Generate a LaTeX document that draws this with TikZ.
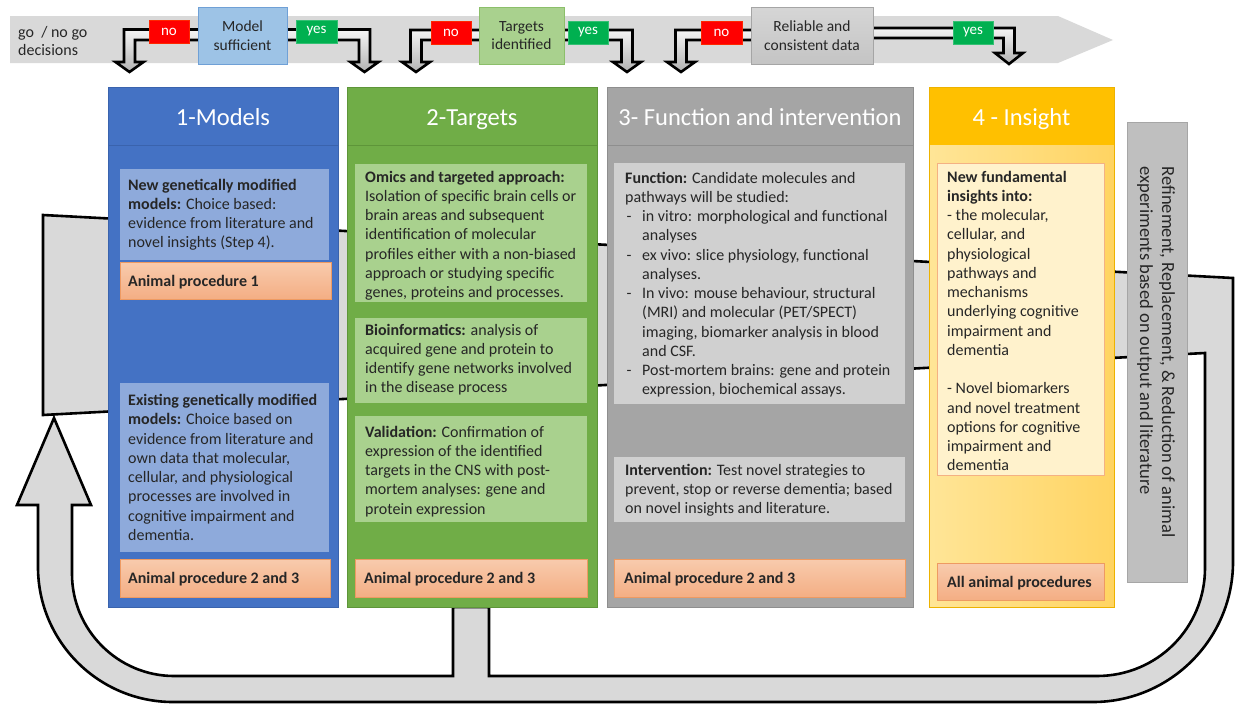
\documentclass[tikz,border=0pt]{standalone}
\usepackage{fontspec}
\setmainfont{Carlito}
\usetikzlibrary{calc}

\definecolor{bandgray}{HTML}{D9D9D9}
\definecolor{ink}{HTML}{262626}
\definecolor{mblue}{HTML}{4472C4}
\definecolor{mblueline}{HTML}{3A63AD}
\definecolor{mbluelt}{HTML}{8EAADB}
\definecolor{tgreen}{HTML}{70AD47}
\definecolor{tgreenline}{HTML}{5E9539}
\definecolor{tgreenlt}{HTML}{A9D18E}
\definecolor{fgray}{HTML}{A5A5A5}
\definecolor{fgrayline}{HTML}{8E8E8E}
\definecolor{fgraylt}{HTML}{D0D0D0}
\definecolor{igold}{HTML}{FFC000}
\definecolor{igoldline}{HTML}{EDB200}
\definecolor{ibodyL}{HTML}{FFE597}
\definecolor{ibodyR}{HTML}{FFD462}
\definecolor{ilight}{HTML}{FFF2CC}
\definecolor{ilightline}{HTML}{F4B183}
\definecolor{apfillA}{HTML}{F8CBAD}
\definecolor{apfillB}{HTML}{F4AE84}
\definecolor{apline}{HTML}{EE9A62}
\definecolor{nored}{HTML}{FF0000}
\definecolor{yesgreen}{HTML}{00B050}
\definecolor{decblue}{HTML}{9DC3E6}
\definecolor{decblueline}{HTML}{6FA0D6}
\definecolor{decgreen}{HTML}{A9D18E}
\definecolor{decgreenline}{HTML}{8CBF6A}
\definecolor{decgray}{HTML}{C4C4C4}
\definecolor{decgrayline}{HTML}{A5A5A5}
\definecolor{rrrgray}{HTML}{BFBFBF}
\definecolor{rrrline}{HTML}{A6A6A6}

% box from (x1,y1) to (x2,y2), y counted downwards
\newcommand\bx[7]{%
  \pgfmathsetmacro\bxw{#5-#3}\pgfmathsetmacro\bxh{#6-#4}%
  \node[#2,anchor=north west,minimum width=\bxw pt,minimum height=\bxh pt,
        inner sep=0pt,outer sep=0pt] (#1) at (#3,#4) {#7};}

% hollow bent arrow leaving a box sideways and turning down
% #1 box, #2 shaft centre x, #3 top line y, #4 bottom line y, #5 head base y, #6 tip y, #7 side (-1 left, 1 right)
\newcommand\bent[7]{%
  \draw[hollow] (#1 |- 0,#3) -- ({#2+#7*5.5},#3) -- ({#2+#7*5.5},#5) -- ({#2+#7*14},#5)
     -- (#2,#6) -- ({#2-#7*14},#5) -- ({#2-#7*5.5},#5) -- ({#2-#7*5.5},#4)
     -- (#1 |- 0,#4) -- cycle;}

\newcommand\bul{\makebox[17pt][l]{\hspace{1.5pt}-}}
\newcommand\cont{\hspace*{17pt}}

\begin{document}
\begin{tikzpicture}[x=1pt,y=-1pt,
  hollow/.style={draw=black,line width=2.6pt,line join=miter,top color=gray!8,bottom color=gray!60},
  body/.style={anchor=north west,inner sep=0pt,align=left,text=ink,
               font=\fontsize{16}{19.25}\selectfont},
  title/.style={anchor=base,text=white,inner sep=0pt,font=\fontsize{24.5}{28}\selectfont},
  deci/.style={text=ink,align=center,font=\fontsize{15.5}{18.5}\selectfont},
  tag/.style={text=white,font=\fontsize{15}{17}\selectfont},
  apbox/.style={top color=apfillA,bottom color=apfillB,draw=apline,line width=0.8pt},
  band/.style={fill=bandgray,draw=black,line width=2.6pt,line join=miter}]
\useasboundingbox (0,0) rectangle (1240,704);

% ---------- go / no go bar ----------
\fill[bandgray] (10,16) -- (1058,16) -- (1113,40) -- (1058,63) -- (10,63) -- cycle;
\node[anchor=north west,inner sep=0pt,align=left,text=ink,
      font=\fontsize{16}{18}\selectfont] (gonogo) at (18,24.5)
      {\strut go \ / no go\\decisions};

\bx{model}{draw=none}{198}{7}{287}{64}{}
\bx{targets}{draw=none}{479}{7}{564}{64}{}
\bx{reliable}{draw=none}{751}{7}{873}{64}{}

\bent{model}{129.5}{29.5}{40}{62}{72}{-1}
\bent{model}{364.5}{29.5}{40}{62}{72}{1}
\bent{targets}{416}{30}{40}{62}{72}{-1}
\bent{targets}{627}{30}{40}{62}{72}{1}
\bent{reliable}{681}{30}{40}{62}{72}{-1}
\bent{reliable}{1009}{28}{38}{53}{64}{1}

\bx{modelbox}{fill=decblue,draw=decblueline,line width=0.8pt}{198}{7}{287}{64}{}
\node[deci] (modeltxt) at (modelbox) {Model\\sufficient};
\bx{targetsbox}{fill=decgreen,draw=decgreenline,line width=0.8pt}{479}{7}{564}{64}{}
\node[deci] (targetstxt) at (targetsbox) {Targets\\identified};
\bx{reliablebox}{top color=decgray!70,bottom color=decgray,draw=decgrayline,line width=0.8pt}{751}{7}{873}{64}{}
\node[deci] (reliabletxt) at (reliablebox) {Reliable and\\consistent data};

\bx{no1}{fill=nored,draw=nored!70!orange,line width=0.6pt,tag}{149}{20}{189}{43}{no}
\bx{yes1}{fill=yesgreen,draw=yesgreen!80!white,line width=0.6pt,tag}{296}{20}{337}{43}{yes}
\bx{no2}{fill=nored,draw=nored!70!orange,line width=0.6pt,tag}{431}{21}{471}{44}{no}
\bx{yes2}{fill=yesgreen,draw=yesgreen!80!white,line width=0.6pt,tag}{568}{21}{608}{44}{yes}
\bx{no3}{fill=nored,draw=nored!70!orange,line width=0.6pt,tag}{701}{21}{742}{44}{no}
\bx{yes3}{fill=yesgreen,draw=yesgreen!80!white,line width=0.6pt,tag}{953}{21}{993}{44}{yes}

% ---------- feedback loop behind the panels ----------
\draw[band] (43,215) -- (1233,278) -- (1233,562)
  .. controls (1233,639) and (1170,702) .. (1093,702)
  -- (173,702)
  .. controls (98.5,702) and (38,641.5) .. (38,567)
  -- (38,505) -- (17,505) -- (54,418) -- (91,505) -- (72,505) -- (72,574)
  .. controls (72,630) and (118,676) .. (174,676)
  -- (453,676) -- (453,607) -- (489,607) -- (489,676) -- (1097,676)
  .. controls (1157,676) and (1205,628) .. (1205,568)
  -- (1205,353) -- (43,415) -- cycle;

% ---------- panel 1 ----------
\bx{p1}{fill=mblue,draw=mblueline,line width=0.8pt}{108}{87}{338}{607}{}
\draw[mblueline,line width=0.8pt] (p1.west |- 0,145) -- (p1.east |- 0,145);
\node[title] (h1) at (223,125) {1-Models};
\bx{p1a}{fill=mbluelt}{120}{169}{329}{260}{}
\node[body] (t1a) at (128,176.5) {\strut\textbf{New genetically modified}\\\textbf{models:} Choice based:\\evidence from literature and\\novel insights (Step 4).};
\bx{p1ap1}{apbox}{120}{262}{331}{299}{}
\node[body] (t1ap1) at (128,273) {\strut\textbf{Animal procedure 1}};
\bx{p1b}{fill=mbluelt}{120}{383}{329}{552}{}
\node[body] (t1b) at (128,392) {\strut\textbf{Existing genetically modified}\\\textbf{models:} Choice based on\\evidence from literature and\\own data that molecular,\\cellular, and physiological\\processes are involved in\\cognitive impairment and\\dementia.};
\bx{p1ap2}{apbox}{120}{559}{330}{597}{}
\node[body] (t1ap2) at (128,570) {\strut\textbf{Animal procedure 2 and 3}};

% ---------- panel 2 ----------
\bx{p2}{fill=tgreen,draw=tgreenline,line width=0.8pt}{347}{87}{597}{607}{}
\draw[tgreenline,line width=0.8pt] (p2.west |- 0,145) -- (p2.east |- 0,145);
\node[title] (h2) at (472,125) {2-Targets};
\bx{p2a}{fill=tgreenlt}{355}{164}{587}{302}{}
\node[body] (t2a) at (365,168.5) {\strut\textbf{Omics and targeted approach:}\\Isolation of specific brain cells or\\brain areas and subsequent\\identification of molecular\\profiles either with a non-biased\\approach or studying specific\\genes, proteins and processes.};
\bx{p2b}{fill=tgreenlt}{355}{318}{587}{403}{}
\node[body] (t2b) at (365,321.5) {\strut\textbf{Bioinformatics:} analysis of\\acquired gene and protein to\\identify gene networks involved\\in the disease process};
\bx{p2c}{fill=tgreenlt}{355}{416}{587}{522}{}
\node[body] (t2c) at (365,423.5) {\strut\textbf{Validation:} Confirmation of\\expression of the identified\\targets in the CNS with post-\\mortem analyses: gene and\\protein expression};
\bx{p2ap}{apbox}{355}{559}{587}{597}{}
\node[body] (t2ap) at (364,570) {\strut\textbf{Animal procedure 2 and 3}};

% ---------- panel 3 ----------
\bx{p3}{fill=fgray,draw=fgrayline,line width=0.8pt}{607}{87}{913}{607}{}
\draw[fgrayline,line width=0.8pt] (p3.west |- 0,145) -- (p3.east |- 0,145);
\node[title] (h3) at (760,125) {3- Function and intervention};
\bx{p3a}{fill=fgraylt}{614}{163}{905}{404}{}
\node[body] (t3a) at (625,169.5) {\strut\textbf{Function:} Candidate molecules and\\pathways will be studied:\\\bul in vitro: morphological and functional\\\cont analyses\\\bul ex vivo: slice physiology, functional\\\cont analyses.\\\bul In vivo: mouse behaviour, structural\\\cont (MRI) and molecular (PET/SPECT)\\\cont imaging, biomarker analysis in blood\\\cont and CSF.\\\bul Post-mortem brains: gene and protein\\\cont expression, biochemical assays.};
\bx{p3b}{fill=fgraylt}{614}{457}{905}{522}{}
\node[body] (t3b) at (625,461.5) {\strut\textbf{Intervention:} Test novel strategies to\\prevent, stop or reverse dementia; based\\on novel insights and literature.};
\bx{p3ap}{apbox}{614}{559}{905}{597}{}
\node[body] (t3ap) at (624,570) {\strut\textbf{Animal procedure 2 and 3}};

% ---------- panel 4 ----------
\bx{p4body}{left color=ibodyL,right color=ibodyR}{929}{145}{1114}{607}{}
\bx{p4head}{fill=igold}{929}{87}{1114}{145}{}
\bx{p4}{draw=igoldline,line width=0.8pt}{929}{87}{1114}{607}{}
\node[title] (h4) at (1021.5,125) {4 - Insight};
\bx{p4a}{fill=ilight,draw=ilightline,line width=0.8pt}{937}{163}{1104}{475}{}
\node[body] (t4a) at (947,168.5) {\strut\textbf{New fundamental}\\\textbf{insights into:}\\- the molecular,\\cellular, and\\physiological\\pathways and\\mechanisms\\underlying cognitive\\impairment and\\dementia\\\strut\\- Novel biomarkers\\and novel treatment\\options for cognitive\\impairment and\\dementia};
\bx{p4ap}{apbox}{937}{563}{1104}{600}{}
\node[body] (t4ap) at (947,574) {\strut\textbf{All animal procedures}};

% ---------- 3R box ----------
\bx{rrr}{fill=rrrgray,draw=rrrline,line width=0.8pt}{1127}{122}{1187}{582}{}
\node[rotate=-90,align=left,text=ink,inner sep=0pt,font=\fontsize{18.5}{22}\selectfont]
  (rrrtxt) at (1156,352) {Refinement, Replacement, \& Reduction of animal\\experiments based on output and literature};

\end{tikzpicture}
\end{document}
